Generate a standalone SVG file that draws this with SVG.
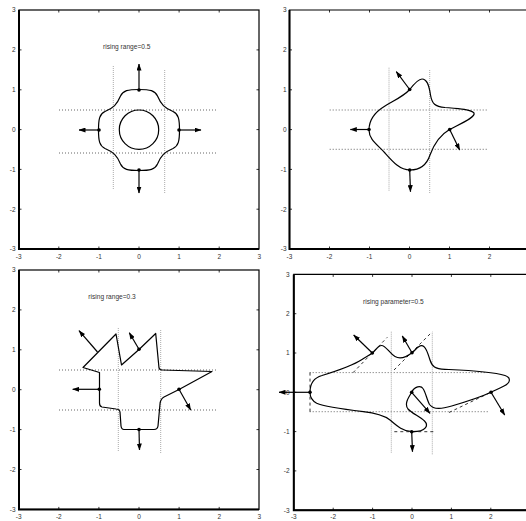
<svg xmlns="http://www.w3.org/2000/svg" width="526" height="521" viewBox="0 0 526 521">
<defs>
<marker id="ah" markerUnits="userSpaceOnUse" markerWidth="7" markerHeight="5" viewBox="0 0 7 5" refX="6.5" refY="2.5" orient="auto"><path d="M0,0 L7,2.5 L0,5 Z" fill="#000"/></marker>
</defs>
<style>
.frame{fill:none;stroke:#000;stroke-width:1.2}
.axis{stroke:#000;stroke-width:2;fill:none}
.tick{stroke:#000;stroke-width:0.8;fill:none}
.lbl{font-family:"Liberation Sans",Arial,sans-serif;font-size:6.5px;fill:#333}
.yl{text-anchor:end}
.xl{text-anchor:middle}
.title{font-family:"Liberation Sans",Arial,sans-serif;font-size:6.6px;fill:#333}
.hdot{stroke:#555;stroke-width:0.9;stroke-dasharray:1 2;fill:none}
.vdot{stroke:#aaa;stroke-width:1;stroke-dasharray:1 1;fill:none}
.curve{fill:none;stroke:#000;stroke-width:1.2;stroke-linejoin:round}
.arr{stroke:#000;stroke-width:1.2;fill:none;marker-end:url(#ah)}
.dash{stroke:#000;stroke-width:0.8;stroke-dasharray:3 3;fill:none}
.dot{fill:#000}
</style>
<rect width="526" height="521" fill="#fff"/>

<g id="panel1">
<rect class="frame" x="19" y="10" width="240" height="239"/>
<path class="axis" d="M19,10V249H259"/>
<path class="tick" d="M58.8,249v-2.5M98.9,249v-2.5M139,249v-2.5M179.1,249v-2.5M219.2,249v-2.5M58.8,10v2.5M98.9,10v2.5M139,10v2.5M179.1,10v2.5M219.2,10v2.5M19,49.9h2.5M19,89.8h2.5M19,129.6h2.5M19,169.4h2.5M19,209.2h2.5M259,49.9h-2.5M259,89.8h-2.5M259,129.6h-2.5M259,169.4h-2.5M259,209.2h-2.5"/>
<g class="lbl yl"><text x="15.5" y="12.3">3</text><text x="15.5" y="52.2">2</text><text x="15.5" y="92.1">1</text><text x="15.5" y="131.9">0</text><text x="15.5" y="171.7">-1</text><text x="15.5" y="211.5">-2</text><text x="15.5" y="251.3">-3</text></g>
<g class="lbl xl"><text x="18.7" y="258.8">-3</text><text x="58.8" y="258.8">-2</text><text x="98.9" y="258.8">-1</text><text x="139" y="258.8">0</text><text x="179.1" y="258.8">1</text><text x="219.2" y="258.8">2</text><text x="259.3" y="258.8">3</text></g>
<text class="title" x="103" y="48.5">rising range=0.5</text>
<path class="hdot" d="M59,110H217M59,153H217"/>
<path class="vdot" d="M113.3,66V190M164.7,70V194"/>
<circle class="curve" cx="139" cy="129.7" r="19.7"/>
<path class="curve" d="M139,89.5C150,89.5 155,90.5 157.5,96C159.3,100.3 161,103.2 163.4,105.6C165.8,108 168.7,109.7 173,111.5C178.5,114 179.5,119 179.5,130C179.5,141 178.5,146 173,148.5C168.7,150.3 165.8,152 163.4,154.4C161,156.8 159.3,159.7 157.5,164C155,169.5 150,170.5 139,170.5C128,170.5 123,169.5 120.5,164C118.7,159.7 117,156.8 114.6,154.4C112.2,152 109.3,150.3 105,148.5C99.5,146 98.5,141 98.5,130C98.5,119 99.5,114 105,111.5C109.3,109.7 112.2,108 114.6,105.6C117,103.2 118.7,100.3 120.5,96C123,90.5 128,89.5 139,89.5Z"/>
<path class="arr" d="M139,90V64"/>
<path class="arr" d="M179,130H201"/>
<path class="arr" d="M99,130H79"/>
<path class="arr" d="M139,170V193"/>
<circle class="dot" cx="139" cy="90" r="1.8"/><circle class="dot" cx="179" cy="130" r="1.8"/><circle class="dot" cx="99" cy="130" r="1.8"/><circle class="dot" cx="139" cy="170" r="1.8"/>
</g>

<g id="panel2">
<path class="frame" d="M526,10H289.5V249H526"/>
<path class="axis" d="M289.5,10V249H526"/>
<path class="tick" d="M329.5,249v-2.5M369.5,249v-2.5M409.5,249v-2.5M449.5,249v-2.5M489.5,249v-2.5M329.5,10v2.5M369.5,10v2.5M409.5,10v2.5M449.5,10v2.5M489.5,10v2.5M289.5,49.9h2.5M289.5,89.8h2.5M289.5,129.6h2.5M289.5,169.4h2.5M289.5,209.2h2.5"/>
<g class="lbl yl"><text x="286.5" y="12.3">3</text><text x="286.5" y="52.2">2</text><text x="286.5" y="92.1">1</text><text x="286.5" y="131.9">0</text><text x="286.5" y="171.7">-1</text><text x="286.5" y="211.5">-2</text><text x="286.5" y="251.3">-3</text></g>
<g class="lbl xl"><text x="289.5" y="258.8">-3</text><text x="329.5" y="258.8">-2</text><text x="369.5" y="258.8">-1</text><text x="409.5" y="258.8">0</text><text x="449.5" y="258.8">1</text><text x="489.5" y="258.8">2</text></g>
<path class="hdot" d="M329.7,110H487M329.7,149.3H487"/>
<path class="vdot" d="M389,67.7V191.7M429.7,70V194"/>
<path class="curve" d="M409.7,89.5C414,84 418,79 422,79C427,79 429,85 430.5,95C432,104 435,106.5 445,107.5C458,108.5 470,109 474,113C476,117 462,123 449.5,129.5C440,135 434,144 430,155C427,164 421,170 410,170C400,170 393,162 385,153C378,145 369,140 369,130C369,119 375,112 385,106C395,100 404,96 409.7,89.5Z"/>
<path class="arr" d="M409.7,89.5L396.3,71.7"/>
<path class="arr" d="M369,129.5H350.3"/>
<path class="arr" d="M409.7,170L410.5,191.7"/>
<path class="arr" d="M449.7,129.5L459.7,150"/>
<circle class="dot" cx="409.7" cy="89.5" r="1.8"/><circle class="dot" cx="369" cy="129.5" r="1.8"/><circle class="dot" cx="409.7" cy="170" r="1.8"/><circle class="dot" cx="449.7" cy="129.5" r="1.8"/>
</g>

<g id="panel3">
<rect class="frame" x="19" y="270" width="240" height="239.4"/>
<path class="axis" d="M19,270V509.4H259"/>
<path class="tick" d="M58.8,509.4v-2.5M98.9,509.4v-2.5M139,509.4v-2.5M179.1,509.4v-2.5M219.2,509.4v-2.5M58.8,270v2.5M98.9,270v2.5M139,270v2.5M179.1,270v2.5M219.2,270v2.5M19,309.9h2.5M19,349.8h2.5M19,389.7h2.5M19,429.6h2.5M19,469.5h2.5M259,309.9h-2.5M259,349.8h-2.5M259,389.7h-2.5M259,429.6h-2.5M259,469.5h-2.5"/>
<g class="lbl yl"><text x="15.5" y="272.3">3</text><text x="15.5" y="312.2">2</text><text x="15.5" y="352.1">1</text><text x="15.5" y="392">0</text><text x="15.5" y="431.9">-1</text><text x="15.5" y="471.8">-2</text><text x="15.5" y="511.7">-3</text></g>
<g class="lbl xl"><text x="18.7" y="519">-3</text><text x="58.8" y="519">-2</text><text x="98.9" y="519">-1</text><text x="139" y="519">0</text><text x="179.1" y="519">1</text><text x="219.2" y="519">2</text><text x="259.3" y="519">3</text></g>
<text class="title" x="88.3" y="299">rising range=0.3</text>
<path class="hdot" d="M59,370H217M59,410H217"/>
<path class="vdot" d="M118.3,328V451.7M160.7,330V454"/>
<path class="curve" d="M116,334L121.5,365L139,349.5L155.7,333.5L159,368Q159.5,370 162,370L212,371.5L179,389.5L164,397Q160.5,399 160,404L158,426Q157.5,429.5 154,429.5L124,429.5Q121.5,429.5 121,426L120,412Q119.5,409 116,409L102,407Q99.5,406.5 99.5,403L99.5,372.5L83,367.5Z"/>
<path class="arr" d="M97.5,352L79,330.7"/>
<path class="arr" d="M139,349.3L129.3,332.7"/>
<path class="arr" d="M99.3,389.3H72.7"/>
<path class="arr" d="M139,429.5L139.5,450"/>
<path class="arr" d="M179,389.3L190.7,410"/>
<circle class="dot" cx="139" cy="349.3" r="1.8"/><circle class="dot" cx="99.3" cy="389.3" r="1.8"/><circle class="dot" cx="139" cy="429.5" r="1.8"/><circle class="dot" cx="179" cy="389.3" r="1.8"/>
</g>

<g id="panel4">
<path class="frame" d="M526,274.4H293.8V510.2H526"/>
<path class="axis" d="M293.8,274.4V510.2H526"/>
<path class="tick" d="M333.2,510.2v-2.5M372.6,510.2v-2.5M412,510.2v-2.5M451.4,510.2v-2.5M490.8,510.2v-2.5M333.2,274.4v2.5M372.6,274.4v2.5M412,274.4v2.5M451.4,274.4v2.5M490.8,274.4v2.5M293.8,313.7h2.5M293.8,353h2.5M293.8,392.3h2.5M293.8,431.6h2.5M293.8,470.9h2.5"/>
<g class="lbl yl"><text x="289.5" y="276.7">3</text><text x="289.5" y="316">2</text><text x="289.5" y="355.3">1</text><text x="289.5" y="394.6">0</text><text x="289.5" y="433.9">-1</text><text x="289.5" y="473.2">-2</text><text x="289.5" y="512.5">-3</text></g>
<g class="lbl xl"><text x="293.8" y="518.7">-3</text><text x="333.2" y="518.7">-2</text><text x="372.6" y="518.7">-1</text><text x="412" y="518.7">0</text><text x="451.4" y="518.7">1</text><text x="490.8" y="518.7">2</text></g>
<text class="title" x="363" y="304">rising parameter=0.5</text>
<path class="hdot" d="M309.7,372.6H485.7M309.7,411.7H489.7"/>
<path class="vdot" d="M391.3,331.7V452.7M432.3,332.7V455"/>
<path class="dash" d="M310,372.6V412M353,372.7L387.3,337.3M394,370L432.3,331.7M449,412.5L492,391.7M394.3,431.7H433.3"/>
<path class="curve" d="M310,392.3C310,384 313,378 322,375.5C335,371.5 352,366 362,359.5C366,357 369.5,355 372.3,353C376,350 378,345.5 381.5,345.5C386,345.5 389,353 395,356.5C399.5,359 404.5,358.5 412,352.7C416,349.5 418.5,345.5 421.5,345.7C425.5,346 427.5,352 430,360C432,366.5 435,368.8 445,369.3C460,370 490,371 505,375.5C511,377.5 511,382.5 504,386C499.5,388.5 495,390.3 491,392.3C480,397.5 462,403 451.7,406C443,408.5 434,410.5 429.5,404.5C427,400 425.5,392 423,388.5C421,385.5 414.5,386 411.7,392.3C408.5,397.5 404,404 408,409C411,412.5 420,417 424.5,421C428.5,425 427,432 411.7,431.7C403,431.5 397,426 390,420C384,415.5 375,413 363.3,411.7C345,409.5 325,407 316.7,403.3C311.5,400.5 310,397 310,392.3Z"/>
<path class="arr" d="M310,392.3H279"/>
<path class="arr" d="M372.3,353L353.7,335"/>
<path class="arr" d="M412,352.7L402.3,336"/>
<path class="arr" d="M411.7,392.3L430,413.3"/>
<path class="arr" d="M411.7,431.7L412.5,451.7"/>
<path class="arr" d="M491,392.3L504.7,415"/>
<circle class="dot" cx="310" cy="392.3" r="1.8"/><circle class="dot" cx="372.3" cy="353" r="1.8"/><circle class="dot" cx="412" cy="352.7" r="1.8"/><circle class="dot" cx="411.7" cy="392.3" r="1.8"/><circle class="dot" cx="411.7" cy="431.7" r="1.8"/><circle class="dot" cx="491" cy="392.3" r="1.8"/>
</g>
</svg>
